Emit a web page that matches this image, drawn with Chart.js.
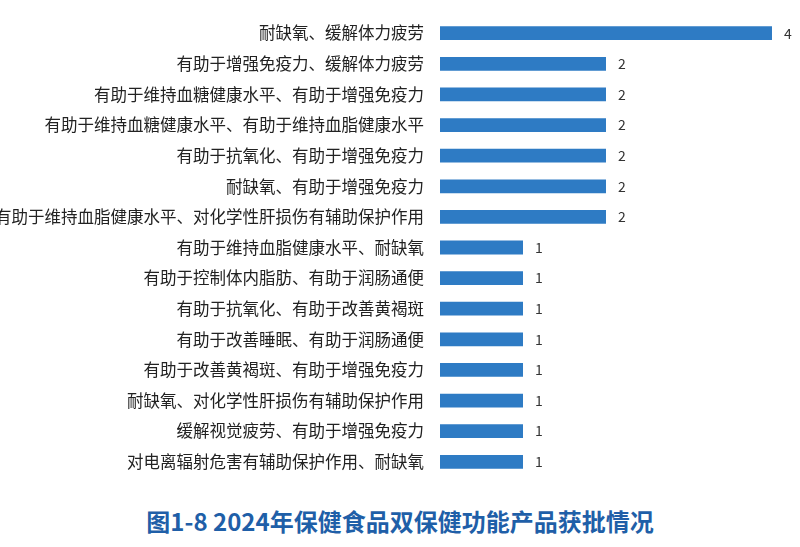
<!DOCTYPE html>
<html><head><meta charset="utf-8">
<script src="https://cdn.jsdelivr.net/npm/chart.js@4"></script>
<style>
body{margin:0;width:800px;height:547px;background:#fff;font-family:"Noto Sans CJK SC",sans-serif;overflow:hidden}
#wrap{position:relative;width:800px;height:495px}
#title{position:absolute;top:503px;left:0;width:800px;text-align:center;font-size:24px;font-weight:bold;color:#1f5fa8}
</style></head><body>
<div id="wrap"><canvas id="c"></canvas></div>
<div id="title">图1-8 2024年保健食品双保健功能产品获批情况</div>
<script>
const categories=["耐缺氧、缓解体力疲劳","有助于增强免疫力、缓解体力疲劳","有助于维持血糖健康水平、有助于增强免疫力","有助于维持血糖健康水平、有助于维持血脂健康水平","有助于抗氧化、有助于增强免疫力","耐缺氧、有助于增强免疫力","有助于维持血脂健康水平、对化学性肝损伤有辅助保护作用","有助于维持血脂健康水平、耐缺氧","有助于控制体内脂肪、有助于润肠通便","有助于抗氧化、有助于改善黄褐斑","有助于改善睡眠、有助于润肠通便","有助于改善黄褐斑、有助于增强免疫力","耐缺氧、对化学性肝损伤有辅助保护作用","缓解视觉疲劳、有助于增强免疫力","对电离辐射危害有辅助保护作用、耐缺氧"];
const values=[4,2,2,2,2,2,2,1,1,1,1,1,1,1,1];
const valLabels={id:'vl',afterDatasetsDraw(ch){const c=ch.ctx;const m=ch.getDatasetMeta(0);c.save();c.font='14px "Noto Sans CJK SC"';c.fillStyle='#333';c.textBaseline='middle';m.data.forEach((b,i)=>{c.fillText(values[i],b.x+12,b.y);});c.restore();}};
new Chart(document.getElementById('c'),{type:'bar',data:{labels:categories,datasets:[{data:values,backgroundColor:'#2e7bc4',barPercentage:0.9,categoryPercentage:0.5}]},
options:{indexAxis:'y',responsive:true,maintainAspectRatio:false,animation:false,layout:{padding:{top:15,bottom:2,right:10,left:0}},
plugins:{legend:{display:false},tooltip:{enabled:false}},
scales:{x:{display:false,min:0,max:4.217},y:{grid:{display:false},border:{display:false},ticks:{color:'#222',font:{size:16.5,family:'"Noto Sans CJK SC"'},padding:8},afterFit(s){s.width=440;}}}},plugins:[valLabels]});
</script></body></html>
